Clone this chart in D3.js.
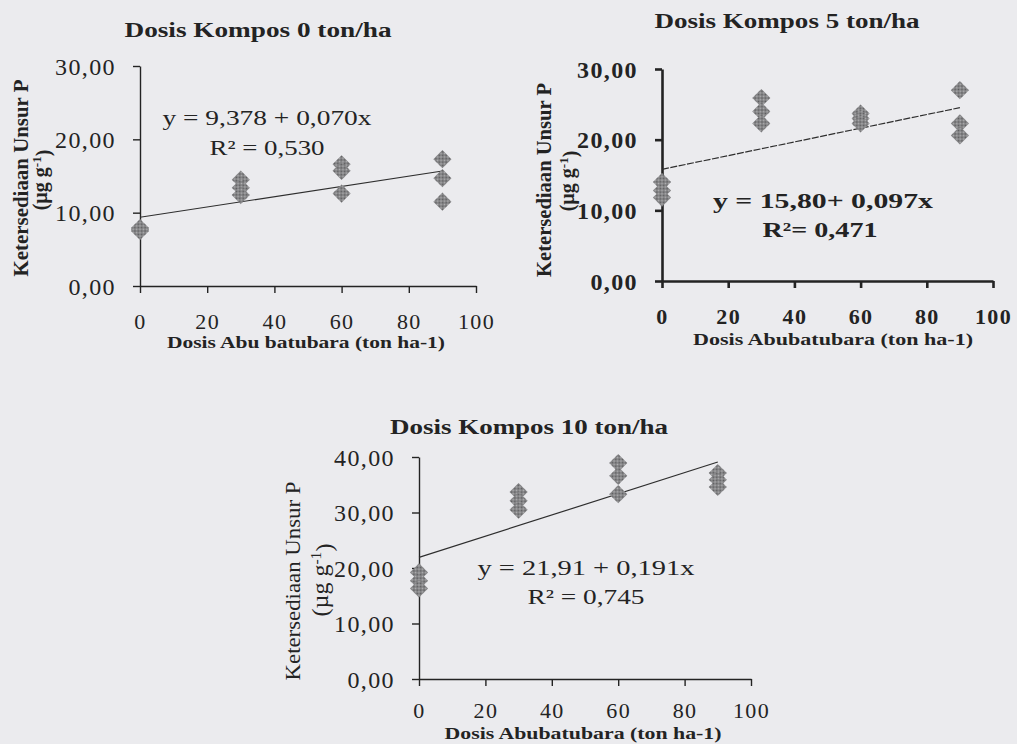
<!DOCTYPE html>
<html><head><meta charset="utf-8">
<script src="https://cdn.jsdelivr.net/npm/d3@7"></script>
<style>html,body{margin:0;padding:0;background:#ebebee;} svg{display:block;}</style>
</head><body><svg id="c" width="1017" height="744"></svg>
<script>
// ---------- data ----------
const xDose = [0, 0, 0, 30, 30, 30, 60, 60, 60, 90, 90, 90];
const pK0  = [7.9, 7.7, 7.5, 14.5, 13.4, 12.4, 16.6, 15.7, 12.6, 17.3, 14.7, 11.5];
const pK5  = [14.0, 12.8, 11.8, 25.9, 24.0, 22.3, 23.7, 23.0, 22.3, 27.0, 22.3, 20.6];
const pK10 = [19.2, 17.7, 16.3, 33.7, 32.1, 30.5, 38.9, 36.6, 33.3, 37.1, 35.9, 34.6];
const xTickValues = [0, 20, 40, 60, 80, 100];
const yTicks30 = [0, 10, 20, 30];
const yTicks40 = [0, 10, 20, 30, 40];
const intercepts = [9.378, 15.80, 21.91];
const slopes = [0.070, 0.097, 0.191];
const fitRange = [0, 90];
const titles = ["Dosis Kompos 0 ton/ha", "Dosis Kompos 5 ton/ha", "Dosis Kompos 10 ton/ha"];
const xTitles = ["Dosis Abu batubara (ton ha-1)", "Dosis Abubatubara (ton ha-1)", "Dosis Abubatubara (ton ha-1)"];
const yTitle = "Ketersediaan Unsur P";
const eqLabels = ["y = 9,378 + 0,070x", "y =  15,80+ 0,097x", "y =  21,91 + 0,191x"];
const r2Labels = ["R\u00B2 = 0,530", "R\u00B2= 0,471", "R\u00B2 = 0,745"];

// ---------- layout ----------
const layouts = [
  {x0:140, x1:476, yb:286, yt:66, ticks:yTicks30, sw:1.4, bold:false, xpad:20,
   title:[258,37,267], xt:[306,348,278], yt1:[28,178,197], yt2:[47,180,20],
   eq:[267,125,209], r2:[267,155,115], ytBold:true, dash:null},
  {x0:662, x1:993, yb:281, yt:69, ticks:yTicks30, sw:2.6, bold:true, xpad:20,
   title:[787,28,265], xt:[833,345,280], yt1:[551,180,194], yt2:[574,181,20],
   eq:[823,208,220], r2:[820,237,115], ytBold:true, dash:"7,1.5"},
  {x0:419, x1:751, yb:679, yt:457, ticks:yTicks40, sw:1.4, bold:false, xpad:16,
   title:[529,434,278], xt:[583,739,277], yt1:[300,581,199], yt2:[328,580,24],
   eq:[586,575,217], r2:[586,604,117], ytBold:false, dash:null}
];
const seriesList = [pK0, pK5, pK10];

const svg = d3.select("#c");
const FONT = "'Liberation Serif', 'Times New Roman', serif";
const INK = "#232323";
const fmt = d3.formatLocale({decimal:",", thousands:".", grouping:[3], currency:["",""]}).format(".2f");

// stipple pattern for the diamonds
const defs = svg.append("defs");
const pat = defs.append("pattern").attr("id","stip").attr("width",2).attr("height",2)
  .attr("patternUnits","userSpaceOnUse");
pat.append("rect").attr("width",2).attr("height",2).attr("fill","#b0b0b2");
pat.append("rect").attr("width",1).attr("height",1).attr("fill","#5a5a5c");
pat.append("rect").attr("x",1).attr("y",1).attr("width",1).attr("height",1).attr("fill","#5a5a5c");

function txt(g, s, x, y, size, weight, len, rotate) {
  const t = g.append("text").text(s)
    .attr("font-family", FONT).attr("font-size", size).attr("font-weight", weight)
    .attr("fill", INK).attr("text-anchor","middle");
  if (rotate) t.attr("transform", `translate(${x},${y}) rotate(-90)`);
  else t.attr("x", x).attr("y", y);
  if (len) t.attr("textLength", len).attr("lengthAdjust","spacingAndGlyphs");
  return t;
}

layouts.forEach((L, i) => {
  const g = svg.append("g");
  const x = d3.scaleLinear().domain([0,100]).range([L.x0, L.x1]);
  const ymax = d3.max(L.ticks);
  const y = d3.scaleLinear().domain([0,ymax]).range([L.yb, L.yt]);
  const w = L.bold ? "bold" : "normal";

  // y axis
  const ya = g.append("g").attr("transform",`translate(${L.x0},0)`)
    .call(d3.axisLeft(y).tickValues(L.ticks).tickSize(7).tickSizeOuter(0).tickPadding(17).tickFormat(fmt));
  // x axis
  const xa = g.append("g").attr("transform",`translate(0,${L.yb})`)
    .call(d3.axisBottom(x).tickValues(xTickValues).tickSize(7).tickSizeOuter(0).tickPadding(L.xpad).tickFormat(d3.format("d")));
  [ya, xa].forEach(a => {
    a.select(".domain").attr("stroke", INK).attr("stroke-width", L.sw);
    a.selectAll(".tick line").attr("stroke", INK).attr("stroke-width", L.sw);
    a.selectAll("text").attr("font-family", FONT).attr("fill", INK)
      .attr("font-weight", w).attr("letter-spacing", 1.4);
  });
  ya.selectAll("text").attr("font-size", 24).attr("dy","0.34em");
  xa.selectAll("text").attr("font-size", 22);

  // trend line
  const a0 = intercepts[i], b0 = slopes[i];
  g.append("path").datum(fitRange)
    .attr("d", d3.line().x(d => x(d)).y(d => y(a0 + b0*d)))
    .attr("fill","none").attr("stroke","#2e2e2e").attr("stroke-width",1.2)
    .attr("stroke-dasharray", L.dash);

  // points (diamonds)
  const vals = seriesList[i];
  g.selectAll("path.pt").data(vals).join("path").attr("class","pt")
    .attr("d", d3.symbol(d3.symbolSquare, 165)())
    .attr("transform", (d, j) => `translate(${x(xDose[j])},${y(d)}) rotate(45)`)
    .attr("fill","url(#stip)");

  // titles
  txt(g, titles[i], L.title[0], L.title[1], 20, "bold", L.title[2]);
  txt(g, xTitles[i], L.xt[0], L.xt[1], 16, "bold", L.xt[2]);
  txt(g, yTitle, L.yt1[0], L.yt1[1], 20, L.ytBold ? "bold" : "normal", L.yt1[2], true);
  const t2 = g.append("text").attr("transform",`translate(${L.yt2[0]},${L.yt2[1]}) rotate(-90)`)
    .attr("font-family", FONT).attr("font-size", L.yt2[2]).attr("font-weight", L.ytBold ? "bold":"normal")
    .attr("fill", INK).attr("text-anchor","middle");
  t2.append("tspan").text("(\u00B5g g");
  t2.append("tspan").text("-1").attr("dy","-0.45em").attr("font-size", L.yt2[2]*0.65);
  t2.append("tspan").text(")").attr("dy","0.45em");

  // equation
  txt(g, eqLabels[i], L.eq[0], L.eq[1], 22, w, L.eq[2]);
  txt(g, r2Labels[i], L.r2[0], L.r2[1], 22, w, L.r2[2]);
});
</script></body></html>
